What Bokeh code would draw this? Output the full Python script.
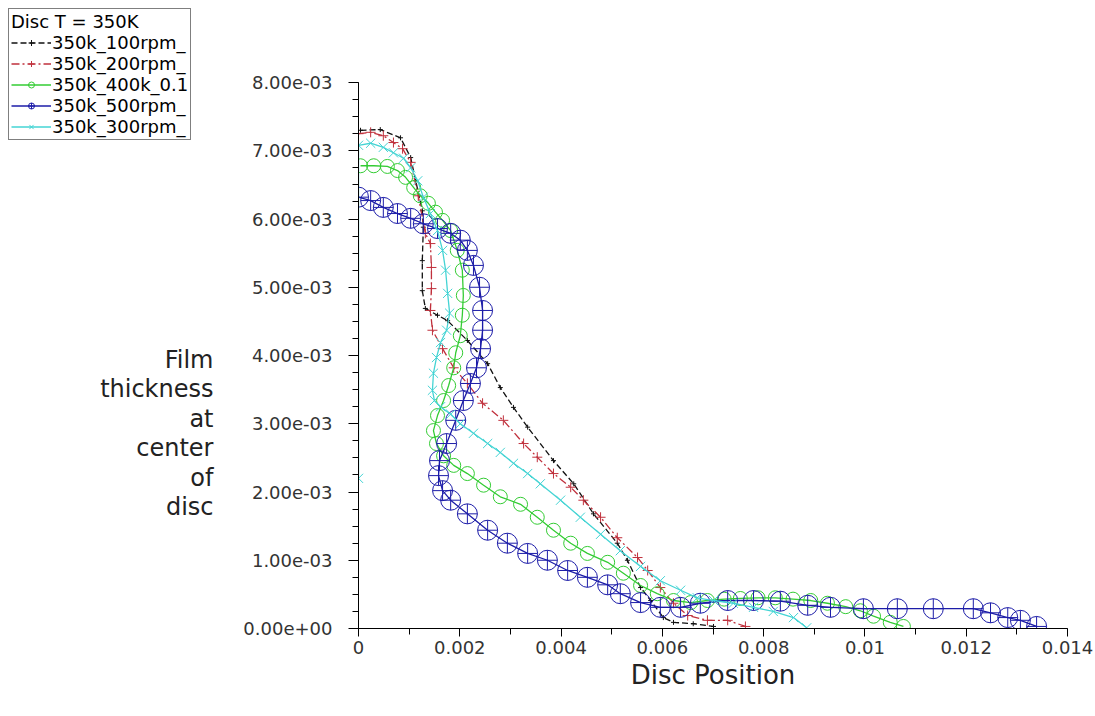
from bokeh.plotting import figure
from bokeh.layouts import row
from bokeh.models import (FixedTicker, CustomJSTickFormatter, Legend, LegendItem, Label)
from bokeh.embed import file_html
from bokeh.resources import INLINE
import numpy as np

# ---------------- data ----------------
series_names = ["350k_100rpm_", "350k_200rpm_", "350k_400k_0.1", "350k_500rpm_", "350k_300rpm_"]

x_100 = [0.00004, 0.00043, 0.00083, 0.00103, 0.00113, 0.00126, 0.00128, 0.00126, 0.00126, 0.00132,
         0.00156, 0.00176, 0.00215, 0.00255, 0.00280, 0.00306, 0.00334, 0.00385, 0.00425, 0.00464,
         0.00511, 0.00531, 0.00557, 0.00577, 0.00602, 0.00622, 0.00661, 0.00701]
y_100 = [7.30e-3, 7.31e-3, 7.19e-3, 6.90e-3, 6.56e-3, 6.12e-3, 5.88e-3, 5.39e-3, 4.95e-3, 4.69e-3,
         4.59e-3, 4.51e-3, 4.22e-3, 3.88e-3, 3.53e-3, 3.24e-3, 2.95e-3, 2.46e-3, 2.12e-3, 1.68e-3,
         1.25e-3, 1.00e-3, 0.60e-3, 0.41e-3, 0.16e-3, 0.09e-3, 0.07e-3, 0.03e-3]

x_200 = [0.0, 0.00024, 0.00049, 0.00069, 0.00087, 0.00103, 0.00118, 0.00132, 0.00142, 0.00144,
         0.00144, 0.00142, 0.00146, 0.00166, 0.00188, 0.00215, 0.00245, 0.00286, 0.00326, 0.00353,
         0.00385, 0.00419, 0.00444, 0.00478, 0.00511, 0.00551, 0.00571, 0.00596, 0.00622, 0.00650,
         0.00689, 0.00729, 0.00764]
y_200 = [7.25e-3, 7.27e-3, 7.22e-3, 7.12e-3, 7.03e-3, 6.83e-3, 6.34e-3, 5.79e-3, 5.64e-3, 5.29e-3,
         4.98e-3, 4.66e-3, 4.37e-3, 4.10e-3, 3.82e-3, 3.59e-3, 3.30e-3, 3.05e-3, 2.71e-3, 2.51e-3,
         2.27e-3, 2.07e-3, 1.88e-3, 1.63e-3, 1.33e-3, 1.04e-3, 0.85e-3, 0.60e-3, 0.37e-3, 0.19e-3,
         0.12e-3, 0.12e-3, 0.03e-3]

x_400 = [0.00004, 0.00030, 0.00057, 0.00077, 0.00093, 0.00109, 0.00122, 0.00138, 0.00152, 0.00166,
         0.00182, 0.00195, 0.00205, 0.00207, 0.00205, 0.00201, 0.00192, 0.00188, 0.00178, 0.00168,
         0.00156, 0.00148, 0.00154, 0.00168, 0.00188, 0.00215, 0.00247, 0.00280, 0.00320, 0.00353,
         0.00385, 0.00419, 0.00452, 0.00492, 0.00523, 0.00557, 0.00590, 0.00622, 0.00656, 0.00689,
         0.00722, 0.00754, 0.00789, 0.00823, 0.00858, 0.00893, 0.00926, 0.00962, 0.00991, 0.01017,
         0.01050, 0.01076]
y_400 = [6.78e-3, 6.78e-3, 6.77e-3, 6.71e-3, 6.61e-3, 6.46e-3, 6.34e-3, 6.23e-3, 6.10e-3, 5.98e-3,
         5.83e-3, 5.54e-3, 5.25e-3, 4.88e-3, 4.59e-3, 4.29e-3, 4.04e-3, 3.82e-3, 3.56e-3, 3.34e-3,
         3.12e-3, 2.90e-3, 2.71e-3, 2.53e-3, 2.39e-3, 2.27e-3, 2.10e-3, 1.93e-3, 1.82e-3, 1.63e-3,
         1.44e-3, 1.25e-3, 1.10e-3, 0.97e-3, 0.81e-3, 0.63e-3, 0.51e-3, 0.41e-3, 0.38e-3, 0.41e-3,
         0.43e-3, 0.44e-3, 0.45e-3, 0.45e-3, 0.43e-3, 0.41e-3, 0.37e-3, 0.32e-3, 0.26e-3, 0.18e-3,
         0.09e-3, 0.03e-3]

x_500 = [0.0, 0.00024, 0.00049, 0.00077, 0.00103, 0.00128, 0.00156, 0.00182, 0.00201, 0.00215,
         0.00227, 0.00239, 0.00245, 0.00245, 0.00241, 0.00233, 0.00221, 0.00207, 0.00192, 0.00174,
         0.00160, 0.00158, 0.00166, 0.00182, 0.00215, 0.00255, 0.00294, 0.00334, 0.00373, 0.00413,
         0.00452, 0.00492, 0.00517, 0.00557, 0.00596, 0.00636, 0.00675, 0.00729, 0.00780, 0.00833,
         0.00887, 0.00932, 0.00997, 0.01064, 0.01135, 0.01214, 0.01248, 0.01282, 0.01307, 0.01339]
y_500 = [6.32e-3, 6.27e-3, 6.17e-3, 6.08e-3, 6.01e-3, 5.93e-3, 5.86e-3, 5.79e-3, 5.69e-3, 5.54e-3,
         5.32e-3, 5.00e-3, 4.66e-3, 4.37e-3, 4.10e-3, 3.82e-3, 3.59e-3, 3.34e-3, 3.05e-3, 2.71e-3,
         2.46e-3, 2.24e-3, 2.02e-3, 1.88e-3, 1.68e-3, 1.44e-3, 1.25e-3, 1.10e-3, 1.00e-3, 0.85e-3,
         0.75e-3, 0.64e-3, 0.51e-3, 0.38e-3, 0.31e-3, 0.31e-3, 0.37e-3, 0.41e-3, 0.41e-3, 0.40e-3,
         0.34e-3, 0.31e-3, 0.29e-3, 0.29e-3, 0.29e-3, 0.29e-3, 0.23e-3, 0.16e-3, 0.12e-3, 0.03e-3]

x_300 = [0.0, 0.0, 0.00024, 0.00049, 0.00069, 0.00089, 0.00103, 0.00117, 0.00128, 0.00142,
         0.00156, 0.00166, 0.00172, 0.00176, 0.00180, 0.00174, 0.00162, 0.00154, 0.00148, 0.00146,
         0.00150, 0.00162, 0.00182, 0.00201, 0.00227, 0.00255, 0.00280, 0.00306, 0.00334, 0.00359,
         0.00399, 0.00438, 0.00478, 0.00517, 0.00557, 0.00596, 0.00636, 0.00669, 0.00701, 0.00740,
         0.00780, 0.00819, 0.00859, 0.00885]
y_300 = [2.20e-3, 7.08e-3, 7.11e-3, 7.05e-3, 6.97e-3, 6.89e-3, 6.75e-3, 6.56e-3, 6.32e-3, 6.08e-3,
         5.83e-3, 5.54e-3, 5.25e-3, 4.91e-3, 4.62e-3, 4.37e-3, 4.19e-3, 3.97e-3, 3.74e-3, 3.49e-3,
         3.34e-3, 3.25e-3, 3.14e-3, 3.00e-3, 2.86e-3, 2.71e-3, 2.58e-3, 2.42e-3, 2.27e-3, 2.12e-3,
         1.88e-3, 1.63e-3, 1.38e-3, 1.14e-3, 0.91e-3, 0.70e-3, 0.56e-3, 0.45e-3, 0.41e-3, 0.37e-3,
         0.31e-3, 0.25e-3, 0.16e-3, 0.01e-3]

x_ticks = [0, 0.002, 0.004, 0.006, 0.008, 0.01, 0.012, 0.014]
y_ticks = [0, 0.001, 0.002, 0.003, 0.004, 0.005, 0.006, 0.007, 0.008]

FONT = "DejaVu Sans"
LEFT_W = 238
H = 716
BOTTOM = 88                       # pixels below the plot frame
FRAME_H = H - BOTTOM              # frame reaches the top of the page
AXIS_TOP_PX = 82                  # the y axis ends 82 px below the page top
Y_MAX = 0.008
Y_RANGE_END = Y_MAX * FRAME_H / (FRAME_H - AXIS_TOP_PX)

# ---------------- main figure ----------------
p = figure(width=1095 - LEFT_W, height=H, output_backend="svg", toolbar_location=None,
           x_range=(0, 0.014), y_range=(0, Y_RANGE_END),
           min_border_left=120, min_border_right=28, min_border_top=0, min_border_bottom=BOTTOM)
p.outline_line_color = None
p.xgrid.visible = False
p.ygrid.visible = False

x_minor = list(np.arange(0, 0.0141, 0.001))
y_minor = list(np.arange(0, 0.00801, 0.00025))
p.xaxis.ticker = FixedTicker(ticks=x_ticks, minor_ticks=x_minor)
p.yaxis.ticker = FixedTicker(ticks=y_ticks, minor_ticks=y_minor)
p.yaxis.bounds = (0, Y_MAX)
p.xaxis.formatter = CustomJSTickFormatter(
    code="return tick == 0 ? '0' : String(parseFloat(tick.toFixed(4)));")
p.yaxis.formatter = CustomJSTickFormatter(code="""
const s = tick.toExponential(2).split('e');
const e = s[1]; const sign = e[0]; let d = e.slice(1);
if (d.length < 2) { d = '0' + d; }
return s[0] + 'e' + sign + d;
""")

for ax in (p.xaxis, p.yaxis):
    ax.axis_line_color = "black"
    ax.major_tick_line_color = "black"
    ax.minor_tick_line_color = "black"
    ax.major_tick_in = 0
    ax.minor_tick_in = 0
    ax.major_label_text_font = FONT
    ax.major_label_text_font_size = "18px"
    ax.major_label_text_color = "#333333"

p.yaxis.major_tick_out = 10
p.yaxis.minor_tick_out = 6
p.yaxis.major_label_standoff = 16
p.xaxis.major_tick_out = 8
p.xaxis.minor_tick_out = 6
p.xaxis.major_label_standoff = 4

p.xaxis.axis_label = "Disc Position"
p.xaxis.axis_label_text_font = FONT
p.xaxis.axis_label_text_font_size = "26px"
p.xaxis.axis_label_text_font_style = "normal"
p.xaxis.axis_label_text_color = "#222222"
p.xaxis.axis_label_standoff = 3

styles = [
    ("#111111", "6 3", "cross", 5),
    ("#c0303c", "8 3 2 3", "cross", 10),
    ("#33cc33", "solid", "circle", 14),
    ("#1c1ca8", "solid", "circle_cross", 20),
    ("#44d4d4", "solid", "x", 13),
]
xs_all = [x_100, x_200, x_400, x_500, x_300]
ys_all = [y_100, y_200, y_400, y_500, y_300]

for xs, ys, (col, dash, mk, sz) in zip(xs_all, ys_all, styles):
    p.line(xs, ys, line_color=col, line_dash=dash, line_width=1.3)
    p.scatter(xs, ys, marker=mk, size=sz, line_color=col, fill_color=None, line_width=1.0)

# ---------------- left panel: axis title and legend ----------------
# its frame is aligned with the main frame (0 .. FRAME_H px from the top);
# ranges are in pixels, measured from the page bottom
q = figure(width=LEFT_W, height=H, output_backend="svg", toolbar_location=None,
           x_range=(0, LEFT_W), y_range=(BOTTOM, H),
           min_border_left=0, min_border_right=0, min_border_top=0, min_border_bottom=BOTTOM,
           x_axis_type=None, y_axis_type=None)
q.outline_line_color = None
q.xgrid.visible = False
q.ygrid.visible = False

ylab = Label(x=213, y=H - 433, text="Film\nthickness\nat\ncenter\nof\ndisc",
             text_align="right", text_baseline="middle",
             text_font=FONT, text_font_size="24px", text_color="#222222",
             text_line_height=1.05)
q.add_layout(ylab)

items = []
for name, xs, ys, (col, dash, mk, sz) in zip(series_names, xs_all, ys_all, styles):
    # same series, drawn in this panel's pixel ranges where they fall outside the view;
    # they only supply the legend glyphs
    r1 = q.line(xs, ys, line_color=col, line_dash=dash, line_width=1.3)
    r2 = q.scatter(xs, ys, marker=mk, size=sz, line_color=col, fill_color=None, line_width=1.0)
    items.append(LegendItem(label=name, renderers=[r1, r2]))

legend = Legend(items=items, location="top_left",
                title="Disc T = 350K",
                title_text_font=FONT, title_text_font_size="18px", title_text_font_style="normal",
                title_text_color="black", title_standoff=0,
                label_text_font=FONT, label_text_font_size="18px", label_text_color="black",
                label_height=15, glyph_height=15, glyph_width=40,
                label_standoff=1, spacing=0, padding=2, margin=8,
                border_line_color="black", border_line_width=1,
                background_fill_color="white", background_fill_alpha=1.0)
q.add_layout(legend, "center")

layout = row(q, p, spacing=0)
open("out.html", "w").write(file_html(layout, INLINE))
